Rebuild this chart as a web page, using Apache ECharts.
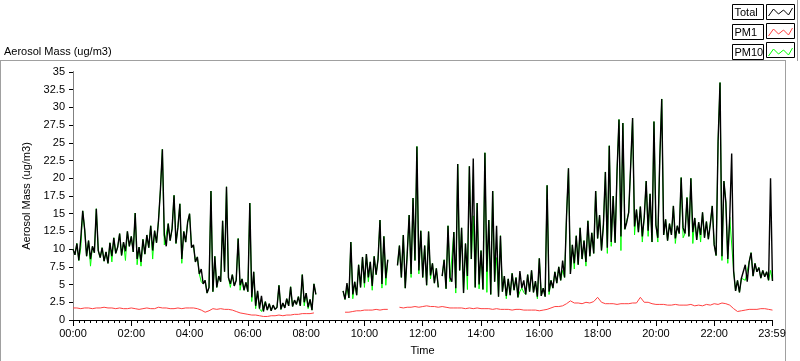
<!DOCTYPE html>
<html>
<head>
<meta charset="utf-8">
<script src="https://cdn.jsdelivr.net/npm/echarts@6/dist/echarts.min.js"></script>
<style>
html,body{margin:0;padding:0;background:#fff;}
#chart{width:800px;height:361px;}
</style>
</head>
<body>
<div id="chart"></div>
<script>
// ---- data (minutes of day) ----
var totalStep = 4; // minutes between Total / PM10 samples
var totalValues = [
// 00h
10.0, 9.2, 10.8, 8.4, 11.5, 15.4, 12.8, 9.0, 11.2, 8.6, 10.4, 9.5, 15.7, 9.8, 8.8,
// 01h
10.2, 8.3, 9.6, 8.0, 10.9, 9.0, 11.6, 9.4, 10.3, 12.2, 9.1, 11.0, 9.7, 12.5, 10.4,
// 02h
11.8, 9.6, 15.1, 8.6, 10.3, 8.2, 11.4, 9.3, 12.0, 10.2, 13.3, 9.8, 12.6, 10.9, 14.0,
// 03h
18.4, 24.1, 12.0, 10.4, 13.6, 11.2, 12.9, 17.6, 10.8, 13.1, 16.4, 8.6, 12.5, 11.0, 13.8,
// 04h
15.0, 10.2, 10.6, 8.2, 8.9, 6.5, 7.2, 5.1, 5.6, 3.8, 4.6, 18.2, 4.0, 9.0, 4.6,
// 05h
6.2, 5.4, 14.0, 6.8, 18.8, 6.0, 5.1, 6.4, 4.8, 5.6, 11.5, 4.9, 5.8, 4.2, 5.3,
// 06h
4.0, 16.5, 3.2, 6.8, 2.0, 4.1, 1.6, 3.4, 1.2, 2.6, 1.4, 2.3, 1.3, 2.1, 1.5,
// 07h
1.8, 4.9, 1.5, 2.4, 1.7, 3.0, 2.0, 4.7, 1.9, 2.8, 2.2, 3.3, 2.0, 6.4, 2.5,
// 08h
3.8, 1.8, 2.9, 1.4, 5.1, 3.6, null, null, null, null, null, null, null, null, null,
// 09h
null, null, null, null, 4.1, 2.9, 5.2, 3.1, 11.0, 3.6, 5.4, 3.5, 7.8, 4.6, 8.9,
// 10h
5.2, 9.3, 6.0, 8.2, 4.8, 9.0, 6.4, 8.6, 14.1, 5.1, 11.8, 5.9, 8.5, null, null,
// 11h
null, null, 7.7, 10.5, 6.0, 12.0, 4.5, 9.3, 14.8, 6.5, 17.2, 8.4, 24.5, 7.0, 12.6,
// 12h
6.0, 10.5, 4.9, 12.5, 6.3, 8.0, 5.2, 7.3, 4.6, null, 6.2, 8.5, 4.4, 13.3, 6.0,
// 13h
5.4, 12.4, 4.5, 22.0, 7.0, 13.0, 3.8, 10.8, 6.2, 21.7, 8.6, 22.8, 4.6, 16.5, 5.0,
// 14h
9.8, 4.3, 23.6, 6.8, 14.1, 3.6, 18.2, 5.4, 13.3, 3.3, 11.9, 4.0, 6.2, 3.4, 5.8,
// 15h
3.5, 6.6, 4.2, 6.0, 3.2, 6.9, 4.5, 5.6, 3.6, 6.4, 4.0, 7.0, 3.9, 5.5, 3.3,
// 16h
8.7, 3.4, 4.5, 3.3, 19.0, 4.0, 5.6, 4.5, 6.8, 5.2, 7.5, 5.6, 8.4, 6.0, 14.6,
// 17h
21.4, 6.5, 10.6, 8.0, 11.9, 7.8, 13.0, 8.6, 11.2, 8.2, 14.0, 9.0, 12.3, 9.4, 18.2,
// 18h
11.5, 14.8, 9.8, 13.5, 20.9, 10.2, 24.6, 11.0, 17.5, 10.9, 21.0, 28.3, 11.8, 27.8, 12.8,
// 19h
13.8, 15.2, 21.7, 28.5, 13.2, 15.6, 12.4, 16.0, 11.8, 14.5, 19.6, 12.6, 17.8, 11.0, 28.0,
// 20h
13.4, 11.6, 22.8, 31.2, 12.0, 14.2, 11.2, 13.6, 12.0, 16.1, 11.5, 13.3, 12.2, 20.1, 13.0,
// 21h
12.2, 17.3, 11.8, 20.0, 12.4, 14.4, 11.3, 13.8, 12.0, 15.2, 11.6, 13.9, 11.4, 13.5, 16.1,
// 22h
10.6, 9.1, 25.2, 33.5, 9.0, 19.6, 16.6, 8.6, 14.5, 23.5, 6.9, 4.1, 5.6, 3.9, 5.9,
// 23h
6.0, 7.8, 5.4, 8.2, 9.5, 6.2, 8.0, 6.8, 7.4, 5.9, 7.0, 6.1, 6.8, 5.6, 20.0,
5.5
];

var pm10Values = [
// 00h
10.0, 9.2, 10.8, 8.4, 10.2, 15.4, 12.8, 9.0, 11.2, 7.6, 10.4, 9.5, 15.7, 9.8, 8.8,
// 01h
10.2, 8.3, 9.6, 8.0, 10.9, 8.2, 11.6, 9.4, 10.3, 12.2, 9.1, 11.0, 8.4, 12.5, 10.4,
// 02h
11.8, 9.6, 15.1, 7.8, 10.3, 7.6, 11.4, 9.3, 12.0, 10.2, 13.3, 8.6, 12.6, 10.9, 14.0,
// 03h
18.4, 24.1, 10.6, 10.4, 13.6, 11.2, 12.9, 17.6, 10.8, 13.1, 16.4, 8.0, 12.5, 11.0, 13.8,
// 04h
15.0, 10.2, 10.6, 8.2, 8.9, 6.5, 5.4, 5.1, 5.6, 3.8, 4.6, 18.2, 4.0, 9.0, 4.6,
// 05h
6.2, 5.4, 14.0, 6.8, 18.8, 6.0, 4.6, 6.4, 4.8, 5.6, 11.5, 4.2, 5.8, 4.2, 5.3,
// 06h
4.0, 16.5, 2.6, 6.8, 1.6, 4.1, 1.6, 1.2, 1.2, 2.6, 1.4, 2.3, 1.3, 2.1, 1.5,
// 07h
1.8, 4.9, 1.5, 2.4, 1.7, 3.0, 2.0, 4.7, 1.9, 2.8, 2.2, 3.3, 2.0, 6.4, 2.0,
// 08h
3.8, 1.6, 2.9, 1.4, 5.1, 3.6, null, null, null, null, null, null, null, null, null,
// 09h
null, null, null, null, 4.1, 2.9, 4.6, 3.1, 11.0, 3.0, 5.4, 3.5, 7.8, 4.6, 8.9,
// 10h
4.6, 9.3, 5.4, 8.2, 4.2, 9.0, 6.4, 8.6, 14.1, 4.5, 11.8, 4.9, 8.5, null, null,
// 11h
null, null, 7.7, 10.5, 6.0, 12.0, 4.5, 9.3, 14.8, 6.0, 17.2, 8.4, 24.5, 6.5, 12.6,
// 12h
6.0, 10.5, 4.9, 12.5, 5.8, 8.0, 5.2, 7.3, 4.6, null, 6.2, 8.5, 4.4, 13.3, 5.4,
// 13h
5.4, 12.4, 3.8, 22.0, 7.0, 13.0, 3.8, 10.8, 4.3, 21.7, 8.6, 14.7, 4.6, 16.5, 4.4,
// 14h
9.8, 4.3, 23.6, 3.9, 14.1, 3.6, 18.2, 5.4, 8.8, 3.3, 11.9, 4.0, 6.2, 3.0, 5.8,
// 15h
3.5, 6.6, 4.2, 6.0, 3.2, 4.0, 4.5, 3.9, 3.6, 6.4, 4.0, 7.0, 3.9, 5.5, 3.0,
// 16h
8.7, 3.4, 4.5, 3.3, 19.0, 3.6, 5.6, 4.5, 6.8, 5.2, 7.5, 5.6, 7.0, 6.0, 14.6,
// 17h
21.4, 6.5, 10.6, 7.2, 11.9, 7.8, 13.0, 8.6, 11.2, 7.6, 14.0, 9.0, 12.3, 9.4, 18.2,
// 18h
11.5, 14.8, 9.8, 13.5, 20.9, 9.4, 24.6, 10.4, 17.5, 10.9, 21.0, 28.3, 9.8, 27.8, 12.8,
// 19h
12.8, 15.2, 21.7, 28.5, 12.0, 15.6, 12.4, 16.0, 11.0, 14.5, 19.6, 11.8, 17.8, 11.0, 28.0,
// 20h
13.4, 11.0, 22.8, 31.2, 12.0, 14.2, 11.2, 13.6, 12.0, 16.1, 10.8, 13.3, 12.2, 20.1, 11.6,
// 21h
12.2, 17.3, 11.8, 20.0, 10.8, 14.4, 11.3, 13.8, 11.0, 15.2, 11.6, 13.9, 11.4, 11.6, 16.1,
// 22h
10.6, 9.1, 25.2, 33.5, 8.4, 19.6, 16.6, 8.0, 14.5, 14.3, 6.9, 4.1, 5.6, 3.9, 5.9,
// 23h
6.0, 5.6, 5.4, 8.2, 9.5, 6.2, 8.0, 6.8, 7.4, 5.9, 7.0, 6.1, 6.8, 5.6, 7.0,
5.5
];

var pm1Step = 8; // minutes between PM1 samples
var pm1Values = [
1.7,1.7,1.6,1.7,1.7,1.6,1.7,1.7,1.8,1.7,1.7,1.6,1.7,1.6,1.6,1.7,
1.6,1.5,1.6,1.7,1.6,1.6,1.8,1.7,1.7,1.6,1.6,1.7,1.6,1.7,1.7,1.7,
1.6,1.4,1.1,1.3,1.6,1.5,1.6,1.5,1.5,1.4,1.2,1.0,0.9,0.8,0.7,0.7,
0.6,0.5,0.5,0.6,0.6,0.7,0.6,0.7,0.7,0.8,0.8,0.9,0.9,0.9,1.0,
null,null,null,null,null,null,null,
1.1,1.1,1.2,1.3,1.3,1.4,1.4,1.4,1.5,1.4,1.5,1.5,
null,null,
1.8,1.7,1.8,1.8,1.9,1.8,1.9,2.0,1.9,1.9,1.8,1.9,1.8,1.7,1.7,1.7,
1.7,1.6,1.7,1.6,1.7,1.6,1.6,1.6,1.5,1.6,1.5,1.5,1.5,1.4,1.5,1.5,
1.4,1.4,1.4,1.4,
1.3,1.4,1.5,1.7,1.9,1.9,2.0,2.3,2.7,2.4,2.4,2.3,2.5,2.4,2.6,3.2,
2.5,2.3,2.3,2.3,2.2,2.3,2.3,2.3,2.4,2.4,3.2,2.5,2.5,2.3,2.2,2.2,
2.2,2.1,2.1,2.2,2.1,2.1,2.1,2.2,2.0,2.1,2.0,2.2,2.1,2.3,2.2,2.4,
2.3,2.1,1.6,1.2,1.3,1.4,1.5,1.5,1.5,1.6,1.6,1.5,1.4
];

var seriesNames = ['Total', 'PM1', 'PM10'];
var seriesColors = ['#000000', '#ff4040', '#00ff00'];
var yTitle = 'Aerosol Mass (ug/m3)';
var xTitle = 'Time';

function toPairs(values, step) {
  return values.map(function (v, i) { return [i * step, v]; });
}
function pad(n) { return (n < 10 ? '0' : '') + n; }
function fmtTime(v) { return pad(Math.floor(v / 60)) + ':' + pad(Math.round(v % 60)); }

var FONT = 'Liberation Sans';
var chart = echarts.init(document.getElementById('chart'), null, {renderer: 'canvas'});
var zig = 'path://M0,9 L5,2 L10,7 L15,3 L20,8 L24,1';

chart.setOption({
  animation: false,
  backgroundColor: '#ffffff',
  title: {
    text: yTitle, left: 4, top: 46, padding: 0,
    textStyle: {fontFamily: FONT, fontSize: 11, fontWeight: 'normal', color: '#000'}
  },
  legend: {
    orient: 'vertical', left: 732, top: 4, itemGap: 4, align: 'right',
    selectedMode: false, padding: 0,
    itemWidth: 24, itemHeight: 10, icon: zig,
    formatter: '{t|{name}}',
    data: seriesNames.map(function (n, k) {
      return {name: n, itemStyle: {color: 'transparent', borderColor: seriesColors[k], borderWidth: 1}};
    }),
    textStyle: {
      fontFamily: FONT, fontSize: 11, color: '#000',
      borderColor: '#000', borderWidth: 1, padding: [2, 2, 1, 2],
      rich: {t: {fontFamily: FONT, fontSize: 11, color: '#000', width: 27, align: 'left', lineHeight: 12}}
    }
  },
  grid: {left: 73, right: 28, top: 72, bottom: 39, containLabel: false},
  xAxis: [{
    type: 'value', min: 0, max: 1439, interval: 120,
    name: xTitle, nameLocation: 'middle', nameGap: 25,
    nameTextStyle: {fontFamily: FONT, fontSize: 11, color: '#000'},
    axisLine: {lineStyle: {color: '#808080', width: 1}},
    axisTick: {inside: false, length: 6, lineStyle: {color: '#000'}},
    minorTick: {show: true, splitNumber: 10, length: 3, lineStyle: {color: '#000'}},
    axisLabel: {formatter: fmtTime, fontFamily: FONT, fontSize: 11, color: '#000', margin: 8,
      showMinLabel: true, showMaxLabel: true},
    splitLine: {show: false}
  }, {
    type: 'value', min: 0, max: 1439, position: 'top',
    axisLine: {lineStyle: {color: '#000', width: 1}},
    axisTick: {show: false}, axisLabel: {show: false}, splitLine: {show: false}
  }],
  yAxis: [{
    type: 'value', min: 0, max: 35, interval: 2.5,
    name: yTitle, nameLocation: 'middle', nameGap: 34, nameRotate: 90,
    nameTextStyle: {fontFamily: FONT, fontSize: 11, color: '#000'},
    axisLine: {show: true, lineStyle: {color: '#000', width: 1}},
    axisTick: {show: true, inside: false, length: 4, lineStyle: {color: '#000'}},
    axisLabel: {fontFamily: FONT, fontSize: 11, color: '#000', margin: 8},
    splitLine: {show: false}
  }, {
    type: 'value', min: 0, max: 35, position: 'right',
    axisLine: {show: true, lineStyle: {color: '#808080', width: 1}},
    axisTick: {show: false}, axisLabel: {show: false}, splitLine: {show: false}
  }],
  graphic: [
    {type: 'line', z: 0, shape: {x1: 0, y1: 60.5, x2: 786, y2: 60.5}, style: {stroke: '#a0a0a0', lineWidth: 1}},
    {type: 'line', z: 0, shape: {x1: 0.5, y1: 60, x2: 0.5, y2: 361}, style: {stroke: '#a0a0a0', lineWidth: 1}},
    {type: 'line', z: 0, shape: {x1: 785.5, y1: 60, x2: 785.5, y2: 361}, style: {stroke: '#a0a0a0', lineWidth: 1}},
    {type: 'line', z: 0, shape: {x1: 797.5, y1: 0, x2: 797.5, y2: 61}, style: {stroke: '#a0a0a0', lineWidth: 1}},
    {type: 'rect', z: 0, shape: {x: 766.5, y: 4.5, width: 28, height: 15}, style: {fill: '#fff', stroke: '#000', lineWidth: 1}},
    {type: 'rect', z: 0, shape: {x: 766.5, y: 23.5, width: 28, height: 15}, style: {fill: '#fff', stroke: '#000', lineWidth: 1}},
    {type: 'rect', z: 0, shape: {x: 766.5, y: 42.5, width: 28, height: 15}, style: {fill: '#fff', stroke: '#000', lineWidth: 1}}
  ],
  series: [
    {name: 'PM1', type: 'line', data: toPairs(pm1Values, pm1Step), showSymbol: false, symbol: 'none',
      connectNulls: false, color: seriesColors[1], lineStyle: {width: 1, color: seriesColors[1]}, z: 2},
    {name: 'PM10', type: 'line', data: toPairs(pm10Values, totalStep), showSymbol: false, symbol: 'none',
      connectNulls: false, color: seriesColors[2], lineStyle: {width: 1, color: seriesColors[2]}, z: 3},
    {name: 'Total', type: 'line', data: toPairs(totalValues, totalStep), showSymbol: false, symbol: 'none',
      connectNulls: false, color: seriesColors[0], lineStyle: {width: 1.4, color: seriesColors[0]}, z: 4}
  ]
});
</script>
</body>
</html>
